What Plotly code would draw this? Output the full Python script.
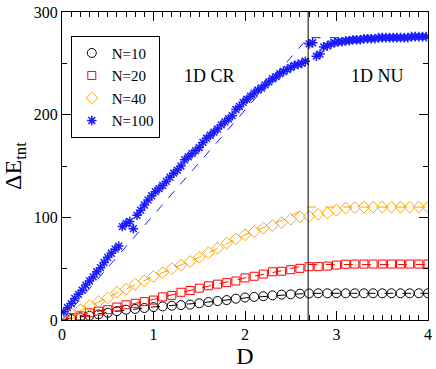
import numpy as np
import plotly.graph_objects as go

# measured points, D = 0.1 ... 4.0
D_small = [round(0.1 * k, 1) for k in range(1, 41)]

E_N10 = [1, 2.5, 4, 5.5, 7, 8.6, 10, 10.8, 11.7, 12.6,
         13.3, 13.9, 14.5, 15, 16.3, 17.5, 18.5, 19.4, 20.8, 21.9,
         22.5, 23.1, 24, 24.7, 25, 25.6, 25.8, 26, 26, 26,
         26, 26, 26, 26, 26, 26, 26, 26, 26, 26]

E_N20 = [2.5, 4, 7, 8.6, 10, 12.6, 14.8, 16.3, 17.9, 19.4,
         22.5, 24, 27, 28.7, 31, 33.3, 34.9, 36.4, 38, 41,
         42.6, 44.7, 47, 47.5, 49, 50.3, 51.9, 52, 52.5, 53.5,
         54.3, 54.5, 54.5, 54.5, 54.5, 54.5, 54.5, 54.5, 54.5, 54.5]

E_N40 = [6, 10, 14, 18, 21.5, 27, 30, 35, 38, 42.5,
         46, 50, 53.5, 57, 61, 65.5, 70, 75, 79, 83,
         86, 89.5, 92, 95, 98, 100.5, 101, 103, 104, 107,
         109, 109.5, 110, 110, 110, 110, 110, 110, 110, 110]

# N=100, D = 0.02 ... 3.98 step 0.04
D_big = [round(0.02 + 0.04 * k, 2) for k in range(100)]
E_N100 = [8, 12, 16, 21, 25, 29, 34, 38, 42, 47,
          51, 56, 61, 65, 69, 72, 91, 94, 96, 89,
          102, 107, 112, 117, 121, 125, 128, 131, 135, 139,
          143, 146, 150, 156, 159, 162, 165, 168, 173, 177,
          180, 183, 186, 190, 193, 196, 199, 205, 208, 212,
          215, 218, 221, 224, 226, 229, 232, 235, 237, 240,
          242, 244, 246, 248, 249, 250, 252, 269, 270, 257,
          259, 266, 267, 269, 270, 271, 271, 272, 272, 273,
          273, 273, 274, 274, 274, 274, 275, 275, 275, 275,
          275, 275, 275, 275, 275, 276, 276, 276, 276, 276]

# dashed model curves
D_boundary = 2.69
D_fit = [0, 0.5, 1.0, 1.5, 2.0, 2.4, 2.69, 4.0]
fit_N10 = [0, 7.5, 12.7, 16.5, 21.5, 24.5, 26, 26]
fit_N20 = [0, 10.5, 20, 31, 41, 48, 54, 54]
fit_N40 = [0, 22, 42.5, 61, 83, 97, 110, 110]
D_fit100 = [0, 2.69, 4.0]
fit_N100 = [0, 275, 275]

series = [
    ("N=10", D_small, E_N10, D_fit, fit_N10, "black", "circle-open", 9, 1),
    ("N=20", D_small, E_N20, D_fit, fit_N20, "red", "square-open", 8, 1),
    ("N=40", D_small, E_N40, D_fit, fit_N40, "orange", "diamond-open", 9, 1),
    ("N=100", D_big, E_N100, D_fit100, fit_N100, "#1a1aff", "asterisk-open", 8, 1.5),
]

serif = "Liberation Serif, Times New Roman, serif"

fig = go.Figure()

for name, xs, ys, fx, fy, col, sym, sz, lw in series:
    fig.add_trace(go.Scatter(x=fx, y=fy, mode="lines", showlegend=False,
                             line=dict(color=col, width=1, dash="dash"),
                             hoverinfo="skip"))

for name, xs, ys, fx, fy, col, sym, sz, lw in series:
    fig.add_trace(go.Scatter(x=xs, y=ys, mode="markers", name=name,
                             marker=dict(symbol=sym, size=sz, color=col,
                                         line=dict(color=col, width=lw))))

fig.add_vline(x=D_boundary, line=dict(color="black", width=1))

fig.add_annotation(x=1.61, y=238, text="1D CR", showarrow=False,
                   font=dict(family=serif, size=18, color="black"))
fig.add_annotation(x=3.45, y=238, text="1D NU", showarrow=False,
                   font=dict(family=serif, size=18, color="black"))

axis_common = dict(showline=True, linecolor="black", linewidth=1, mirror="ticks",
                   ticks="inside", ticklen=9, tickcolor="black", showgrid=False,
                   zeroline=False, ticklabeloverflow="allow",
                   tickfont=dict(family=serif, size=16, color="black"))

fig.update_xaxes(range=[0, 4], dtick=1,
                 minor=dict(dtick=0.1, ticks="inside", ticklen=5, tickcolor="black"),
                 title=dict(text="D", font=dict(family=serif, size=24, color="black"),
                            standoff=5),
                 **axis_common)
fig.update_yaxes(range=[0, 300], dtick=100,
                 minor=dict(dtick=50, ticks="inside", ticklen=5, tickcolor="black"),
                 title=dict(text="ΔE<sub>tnt</sub>",
                            font=dict(family=serif, size=24, color="black"),
                            standoff=6),
                 **axis_common)

fig.update_layout(
    width=436, height=369,
    margin=dict(l=62, r=4, t=7, b=38),
    plot_bgcolor="white", paper_bgcolor="white",
    legend=dict(x=0.024, y=0.923, xanchor="left", yanchor="top",
                bordercolor="black", borderwidth=1, bgcolor="white",
                font=dict(family=serif, size=15, color="black"),
                tracegroupgap=0, itemwidth=30),
)

# page body has a default 8px margin; remove it so the figure sits at the corner
fig.write_html("out.html", config={"displayModeBar": False},
               post_script="document.body.style.margin='0';")
